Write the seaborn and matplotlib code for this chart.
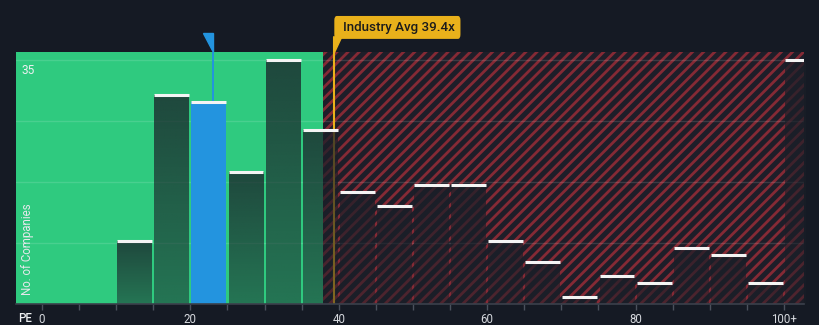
import numpy as np
import matplotlib
matplotlib.use("Agg")
import matplotlib.pyplot as plt
from matplotlib.patches import Polygon, FancyBboxPatch
import seaborn as sns

# PE distribution of peer companies (bin lower bounds, last bin is "100+")
pe_bins = [10, 15, 20, 25, 30, 35, 40, 45, 50, 55, 60, 65, 70, 75, 80, 85, 90, 95, 100]
bin_upper = 103
company_counts = [9, 30, 29, 19, 35, 25, 16, 14, 17, 17, 9, 6, 1, 4, 3, 8, 7, 3, 35]
company_pe = 23.0
industry_avg = 39.4
fair_limit = 37.9
tick_values = [0, 20, 40, 60, 80, 100]
tick_labels = ["0", "20", "40", "60", "80", "100+"]
grid_levels = [8.75, 17.5, 26.25, 35]

BG = "#151a24"
GREEN = "#2fca7f"
BLUE = "#2394df"
GOLD = "#e9b11b"
HATCH_RED = "#852a35"

sns.set_style("dark")
plt.rcParams["font.family"] = ["Roboto", "DejaVu Sans"]
plt.rcParams["hatch.linewidth"] = 2.0
plt.rcParams["hatch.color"] = HATCH_RED

fig = plt.figure(figsize=(8.2, 3.25), dpi=100, facecolor=BG)
ax = fig.add_axes([16 / 820, 1 - 304 / 325, 788 / 820, 252 / 325])
ax.set_facecolor(BG)

xmin, xmax = -3.5, 102.7
ymax = 36.15

# valuation zones
ax.axvspan(xmin, fair_limit, color=GREEN, lw=0, zorder=0)
ax.axvspan(fair_limit, xmax, facecolor="#1e1e29", edgecolor=HATCH_RED,
           hatch="///", lw=0, zorder=0)

for g in grid_levels:
    ax.axhline(g, color="white", alpha=0.13, lw=1, zorder=1)

# reference lines sit behind the translucent bars
ax.plot([company_pe, company_pe], [0, ymax], color=BLUE, lw=1.4, zorder=1.5)
ax.plot([industry_avg, industry_avg], [0, ymax], color=GOLD, lw=1.5, zorder=1.5)

n_before = len(ax.patches)
sns.histplot(x=pe_bins, weights=company_counts, bins=edges if False else pe_bins + [bin_upper],
             shrink=0.94, ax=ax, color="#1a1f28", edgecolor="none", zorder=2)
bars = [p for p in ax.patches[n_before:] if p.get_height() > 0]

# vertical gradient fill for each bar
grad = np.zeros((64, 1, 4))
base = matplotlib.colors.to_rgb("#1a1f28")
grad[..., 0], grad[..., 1], grad[..., 2] = base
grad[:, 0, 3] = np.linspace(0.76, 0.5, 64)

for p in bars:
    x0, w, h = p.get_x(), p.get_width(), p.get_height()
    if x0 <= company_pe < x0 + w:
        p.set_facecolor(BLUE)
        p.set_alpha(1)
    else:
        p.set_facecolor("none")
        im = ax.imshow(grad, extent=[x0, x0 + w, 0, h], origin="upper",
                       aspect="auto", zorder=2, interpolation="bilinear")
        im.set_clip_path(p)
    ax.hlines(h, x0, x0 + w, color="#f4f4f4", lw=2.2, zorder=4)

# company marker above the plot
marker = Polygon([[company_pe - 1.35, 1.074], [company_pe, 1.074], [company_pe, 1.0]],
                 closed=True, transform=ax.get_xaxis_transform(), color=BLUE,
                 clip_on=False, zorder=5)
ax.add_patch(marker)

# industry average label
ax.plot([industry_avg, industry_avg], [1.0, 1.06], color=GOLD, lw=1.5,
        transform=ax.get_xaxis_transform(), clip_on=False, zorder=5)
pointer = Polygon([[industry_avg, 1.0], [industry_avg, 1.06], [industry_avg + 0.9, 1.06]],
                  closed=True, transform=ax.get_xaxis_transform(), color=GOLD,
                  clip_on=False, zorder=5)
ax.add_patch(pointer)
box = FancyBboxPatch((industry_avg, 1.052), 17.0, 0.091,
                     boxstyle="round,pad=0,rounding_size=0.35",
                     transform=ax.get_xaxis_transform(), facecolor=GOLD,
                     edgecolor="none", clip_on=False, zorder=5,
                     mutation_aspect=0.05)
ax.add_patch(box)
ax.text(industry_avg + 1.2, 1.097, f"Industry Avg {industry_avg}x",
        transform=ax.get_xaxis_transform(), ha="left", va="center",
        fontsize=9.6, fontweight="medium", color="#1b1b1b", zorder=6, clip_on=False)

ax.set_xlim(xmin, xmax)
ax.set_ylim(0, ymax)

# axis styling
for s in ["top", "right", "left"]:
    ax.spines[s].set_visible(False)
ax.spines["bottom"].set_color("#3b404b")
ax.spines["bottom"].set_linewidth(1.2)
ax.spines["bottom"].set_zorder(6)
ax.set_xticks(np.arange(0, 101, 5))
ax.set_xticklabels([tick_labels[tick_values.index(v)] if v in tick_values else ""
                    for v in range(0, 101, 5)])
ax.tick_params(axis="x", colors="#4a505c", length=4, width=1, pad=2.5,
               labelcolor="#d6d9de", labelsize=8.3, bottom=True)
ax.set_yticks([])
ax.set_xlabel("")
ax.set_ylabel("")
ax.grid(False)

ax.text(-2.7, 34.4, "35", ha="left", va="top", fontsize=8.5, color="#eef0f2", zorder=6)
ax.text(0.014, 0.036, "No. of Companies", transform=ax.transAxes, rotation=90,
        ha="center", va="bottom", fontsize=8.3, color="#e6e8ec", zorder=6)
fig.text(18 / 820, 1 - 319 / 325, "PE", ha="left", va="center", fontsize=8.3,
         color="#eef0f2", fontweight="medium")

fig.savefig("out.png", dpi=100, facecolor=BG)
